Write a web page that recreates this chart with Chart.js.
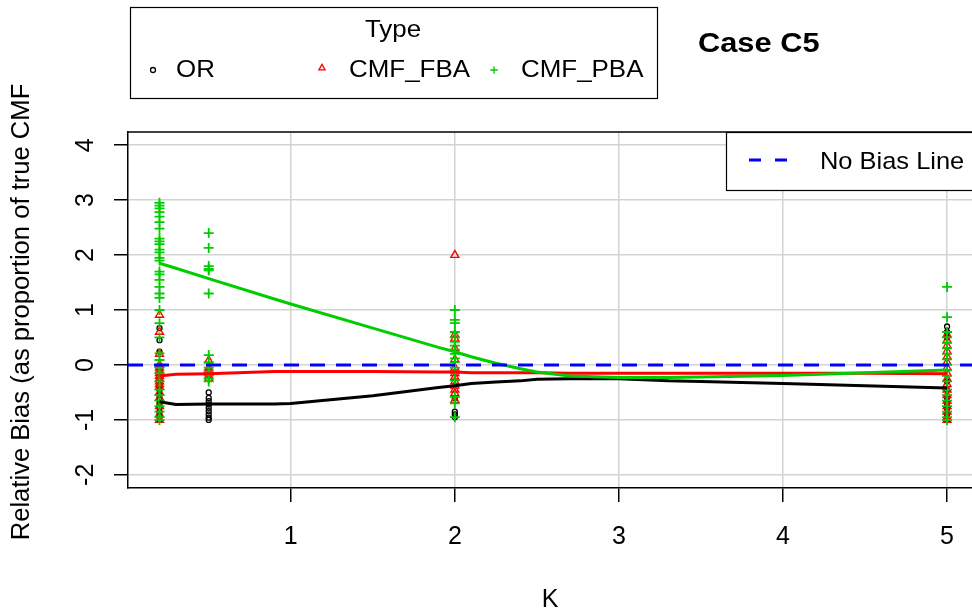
<!DOCTYPE html>
<html>
<head>
<meta charset="utf-8">
<script src="https://cdn.jsdelivr.net/npm/chart.js@4"></script>
<style>
  html, body { margin: 0; padding: 0; background: #fff; }
</style>
</head>
<body>
<canvas id="myChart" width="972" height="615"></canvas>
<script>
// values
const kLevels = [0.2, 0.5, 2, 5];
const orValues = [
    [0.67, 0.45, 0.24, -0.35, -0.45, -0.55, -0.62, -0.7, -0.77, -0.85, -0.92, -1.0],
    [-0.5, -0.6, -0.66, -0.72, -0.78, -0.84, -0.9, -0.96, -1.0],
    [-0.6, -0.85, -0.9, -0.95],
    [0.7, 0.6, 0.5, -0.3, -0.45, -0.6, -0.7, -0.8, -0.9, -1.0]
];
const fbaValues = [
    [0.91, 0.6, 0.2, 0.0, -0.05, -0.1, -0.15, -0.2, -0.25, -0.3, -0.35, -0.4, -0.5, -0.6, -0.75, -0.9, -1.0],
    [0.08, -0.05, -0.1, -0.15, -0.2, -0.25],
    [2.0, 0.55, 0.48, 0.3, 0.1, -0.05, -0.15, -0.22, -0.3, -0.38, -0.45, -0.52, -0.64],
    [0.55, 0.45, 0.35, 0.25, 0.15, 0.05, -0.05, -0.15, -0.25, -0.35, -0.45, -0.55, -0.65, -0.75, -0.85, -0.95, -1.0]
];
const pbaValues = [
    [2.95, 2.9, 2.85, 2.78, 2.7, 2.6, 2.48, 2.3, 2.25, 2.2, 2.1, 2.05, 1.95, 1.9, 1.7, 1.65, 1.55, 1.42, 1.3, 1.22, 1.0, 0.76, 0.5, 0.21, 0.09, -0.05, -0.15, -0.3, -0.45, -0.55, -0.65, -0.75, -0.85, -0.95, -1.0],
    [2.4, 2.13, 1.8, 1.75, 1.72, 1.3, 0.18, 0.05, -0.05, -0.12, -0.18, -0.25, -0.3],
    [1.0, 0.82, 0.76, 0.6, 0.5, 0.42, 0.35, 0.28, 0.2, 0.12, 0.05, -0.05, -0.15, -0.28, -0.58, -0.7, -0.95],
    [1.42, 0.87, 0.6, 0.5, 0.4, 0.3, 0.2, 0.1, 0.0, -0.1, -0.2, -0.3, -0.45, -0.55, -0.65, -0.75, -0.85, -0.95, -1.0]
];

// smoothed mean curves
const smoothK = [0.2, 0.3, 0.5, 0.9, 1, 1.5, 1.9, 2, 2.1, 2.25, 2.4, 2.5, 2.7, 3, 3.3, 3.5, 4, 4.5, 5];
const orSmooth = [-0.67, -0.72, -0.71, -0.71, -0.7, -0.56, -0.41, -0.38, -0.34, -0.31, -0.29, -0.26, -0.25, -0.25, -0.29, -0.3, -0.34, -0.38, -0.42];
const fbaSmooth = [-0.2, -0.17, -0.16, -0.12, -0.12, -0.12, -0.13, -0.13, -0.14, -0.14, -0.14, -0.14, -0.15, -0.15, -0.15, -0.15, -0.15, -0.15, -0.16];
const pbaSmooth = [1.85, 1.76, 1.57, 1.2, 1.11, 0.67, 0.32, 0.24, 0.15, 0.03, -0.07, -0.13, -0.2, -0.23, -0.23, -0.22, -0.19, -0.14, -0.09];

const noBias = 0;
const xRange = [0.008, 5.152];
const yRange = [-2.24, 4.24];
const xTicks = [1, 2, 3, 4, 5];
const yTicks = [-2, -1, 0, 1, 2, 3, 4];
const typeNames = ["OR", "CMF_FBA", "CMF_PBA"];

const FONT = '"Liberation Sans", Arial, sans-serif';
const colBlack = "#000000";
const colRed = "#FF0000";
const colGreen = "#00CD00";
const colBlue = "#0000FF";

function toPoints(values) {
    return kLevels.flatMap((k, i) => values[i].map(v => ({ x: k, y: v })));
}
function toCurve(ys) {
    return smoothK.map((k, i) => ({ x: k, y: ys[i] }));
}

// text a bit wider than tall, like the source picture
function wideText(ctx, text, x, y, stretch) {
    ctx.save();
    ctx.translate(x, y);
    ctx.scale(stretch, 1);
    ctx.fillText(text, 0, 0);
    ctx.restore();
}

const overlay = {
    id: "overlay",
    afterDraw(chart) {
        const ctx = chart.ctx;
        const a = chart.chartArea;
        const x = chart.scales.x;
        const y = chart.scales.y;
        ctx.save();

        // box top edge
        ctx.strokeStyle = "#000";
        ctx.lineWidth = 1.5;
        ctx.beginPath();
        ctx.moveTo(a.left, a.top);
        ctx.lineTo(a.right, a.top);
        ctx.stroke();

        ctx.fillStyle = "#000";
        ctx.font = "25px " + FONT;
        ctx.textAlign = "center";
        ctx.textBaseline = "middle";

        // x tick labels
        xTicks.forEach(v => {
            ctx.fillText(String(v), x.getPixelForValue(v), 537);
        });

        // y tick labels, turned like R does
        yTicks.forEach(v => {
            ctx.save();
            ctx.translate(86, y.getPixelForValue(v));
            ctx.rotate(-Math.PI / 2);
            ctx.fillText(String(v), 0, 0);
            ctx.restore();
        });

        // y axis title
        ctx.save();
        ctx.font = "25.6px " + FONT;
        ctx.translate(22, 312);
        ctx.rotate(-Math.PI / 2);
        ctx.fillText("Relative Bias (as proportion of true CMF", 0, 0);
        ctx.restore();

        // Type legend
        ctx.font = "24px " + FONT;
        ctx.lineWidth = 1.2;
        ctx.strokeRect(130.5, 7.5, 527, 91);
        wideText(ctx, "Type", 393, 30, 1.08);
        ctx.textAlign = "left";
        const keyX = [153, 322, 494];
        const textX = [176, 349, 521];
        const styles = [["circle", 2.5, colBlack], ["triangle", 3.6, colRed], ["cross", 3.8, colGreen]];
        styles.forEach((s, i) => {
            ctx.strokeStyle = s[2];
            ctx.fillStyle = "rgba(0,0,0,0)";
            ctx.lineWidth = 1.3;
            Chart.helpers.drawPoint(ctx, { pointStyle: s[0], radius: s[1], borderWidth: 1.3, rotation: 0 }, keyX[i], i === 1 ? 68 : 70);
            ctx.fillStyle = "#000";
            wideText(ctx, typeNames[i], textX[i], 70, 1.08);
        });

        // title
        ctx.font = "bold 28px " + FONT;
        wideText(ctx, "Case C5", 698, 44, 1.1);

        // No Bias legend
        ctx.fillStyle = "#fff";
        ctx.fillRect(726, a.top, 300, 58);
        ctx.strokeStyle = "#000";
        ctx.lineWidth = 1.2;
        ctx.strokeRect(726.5, a.top + 0.5, 300, 58);
        ctx.strokeStyle = colBlue;
        ctx.lineWidth = 3;
        ctx.setLineDash([12, 14]);
        ctx.beginPath();
        ctx.moveTo(749, 160);
        ctx.lineTo(790, 160);
        ctx.stroke();
        ctx.setLineDash([]);
        ctx.fillStyle = "#000";
        ctx.font = "24px " + FONT;
        wideText(ctx, "No Bias Line", 820, 162, 1.06);

        ctx.restore();
    }
};

new Chart("myChart", {
    type: "scatter",
    data: {
        datasets: [
            {
                label: "No Bias Line",
                data: xRange.map(k => ({ x: k, y: noBias })),
                showLine: true, pointRadius: 0,
                borderColor: colBlue, borderWidth: 3, borderDash: [15, 11],
                order: 0
            },
            {
                label: "CMF_PBA mean", data: toCurve(pbaSmooth), showLine: true, pointRadius: 0,
                borderColor: colGreen, borderWidth: 3, order: 1
            },
            {
                label: "CMF_FBA mean", data: toCurve(fbaSmooth), showLine: true, pointRadius: 0,
                borderColor: colRed, borderWidth: 3, order: 2
            },
            {
                label: "OR mean", data: toCurve(orSmooth), showLine: true, pointRadius: 0,
                borderColor: colBlack, borderWidth: 3, order: 3
            },
            {
                label: "CMF_PBA", data: toPoints(pbaValues), pointStyle: "cross", pointRadius: 5,
                borderColor: colGreen, backgroundColor: "rgba(0,0,0,0)", pointBorderWidth: 1.8, order: 4
            },
            {
                label: "CMF_FBA", data: toPoints(fbaValues), pointStyle: "triangle", pointRadius: 4.6,
                borderColor: colRed, backgroundColor: "rgba(0,0,0,0)", pointBorderWidth: 1.4, order: 5
            },
            {
                label: "OR", data: toPoints(orValues), pointStyle: "circle", pointRadius: 2.5,
                borderColor: colBlack, backgroundColor: "rgba(0,0,0,0)", pointBorderWidth: 1.3, order: 6
            }
        ]
    },
    options: {
        responsive: false,
        animation: false,
        layout: { autoPadding: false, padding: { top: 132, left: 0, right: 0, bottom: 0 } },
        plugins: {
            legend: { display: false },
            tooltip: { enabled: false }
        },
        scales: {
            x: {
                type: "linear",
                min: xRange[0], max: xRange[1],
                afterBuildTicks: s => { s.ticks = xTicks.map(v => ({ value: v })); },
                afterFit: s => { s.height = 127; },
                grid: { color: "#D3D3D3", lineWidth: 1.5, tickLength: 14, tickColor: "#000", tickWidth: 1.5 },
                border: { color: "#000", width: 1.5 },
                ticks: { display: false, padding: 0 },
                title: { display: true, text: "K", color: "#000", font: { family: FONT, size: 25 }, padding: { top: 0, bottom: 0 } }
            },
            y: {
                min: yRange[0], max: yRange[1],
                afterBuildTicks: s => { s.ticks = yTicks.map(v => ({ value: v })); },
                afterFit: s => { s.width = 128; },
                grid: { color: "#D3D3D3", lineWidth: 1.5, tickLength: 14, tickColor: "#000", tickWidth: 1.5 },
                border: { color: "#000", width: 1.5 },
                ticks: { display: false, padding: 0 }
            }
        }
    },
    plugins: [overlay]
});
</script>
</body>
</html>
